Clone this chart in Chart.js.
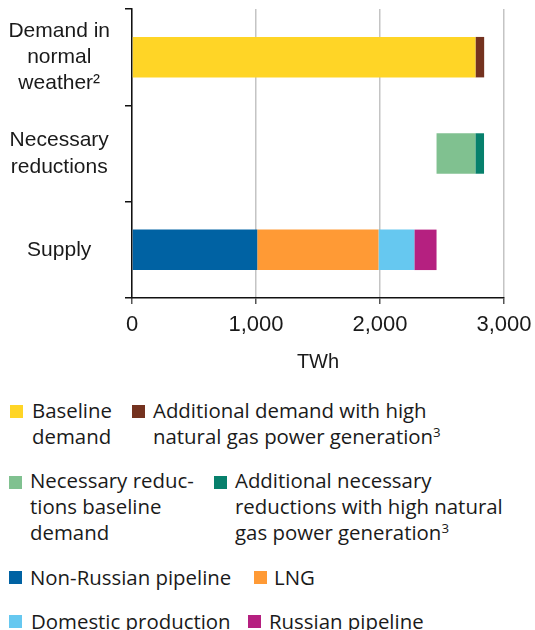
<!DOCTYPE html>
<html>
<head>
<meta charset="utf-8">
<script src="https://cdn.jsdelivr.net/npm/chart.js@4/dist/chart.umd.min.js"></script>
<style>
  body { margin: 0; background: #fff; font-family: "Open Sans", "Liberation Sans", Arial, sans-serif; color: #1a1a1a; }
  #wrap { position: relative; width: 535px; height: 630px; overflow: hidden; }
  #chart { position: absolute; left: 0; top: 0; }
  .item { position: absolute; font-size: 20.4px; line-height: 26px; white-space: nowrap; }
  .sw { position: absolute; width: 13px; height: 13px; }
  sup { font-size: 65%; line-height: 0; vertical-align: 0.55em; }
</style>
</head>
<body>
<div id="wrap">
  <canvas id="chart" width="535" height="385"></canvas>
  <div id="legend"></div>
</div>
<script>
// categories
var categories = [['Demand in', 'normal', 'weather²'], ['Necessary', 'reductions'], 'Supply'];

// series values in TWh
var baselineDemand      = [2770, null, null];
var additionalDemand    = [70, null, null];
var reductionsOffset    = [null, 2456, null];   // invisible start of the floating bar
var reductionsBaseline  = [null, 313, null];
var reductionsAdditional= [null, 70, null];
var nonRussianPipeline  = [null, null, 1010];
var lng                 = [null, null, 978];
var domesticProduction  = [null, null, 289];
var russianPipeline     = [null, null, 179];

var xTicks = [0, 1000, 2000, 3000];

var colores = {
  baseline: '#FFD526', additional: '#74321F',
  redBase: '#80C190', redAdd: '#07806C',
  nonRus: '#0062A3', lng: '#FF9A35', dom: '#66C8F0', rus: '#B52080'
};

function ds(label, data, color) {
  return { label: label, data: data, backgroundColor: color, borderWidth: 0,
           barPercentage: 0.42, categoryPercentage: 1 };
}

new Chart(document.getElementById('chart'), {
  type: 'bar',
  data: {
    labels: categories,
    datasets: [
      ds('Baseline demand', baselineDemand, colores.baseline),
      ds('Additional demand with high natural gas power generation', additionalDemand, colores.additional),
      ds('offset', reductionsOffset, 'rgba(0,0,0,0)'),
      ds('Necessary reductions baseline demand', reductionsBaseline, colores.redBase),
      ds('Additional necessary reductions with high natural gas power generation', reductionsAdditional, colores.redAdd),
      ds('Non-Russian pipeline', nonRussianPipeline, colores.nonRus),
      ds('LNG', lng, colores.lng),
      ds('Domestic production', domesticProduction, colores.dom),
      ds('Russian pipeline', russianPipeline, colores.rus)
    ]
  },
  options: {
    indexAxis: 'y',
    responsive: false,
    animation: false,
    layout: { padding: { top: 9, right: 0, left: 0, bottom: 0 } },
    plugins: { legend: { display: false }, tooltip: { enabled: false } },
    scales: {
      x: {
        stacked: true,
        min: 0, max: 3000,
        afterBuildTicks: function(scale) { scale.ticks = xTicks.map(function(v) { return { value: v }; }); },
        ticks: {
          color: '#1a1a1a', padding: 8,
          font: { family: 'Liberation Sans', size: 22 },
          callback: function(v) { return v.toLocaleString('en-US'); }
        },
        grid: { color: '#c4c4c4', lineWidth: 1.5, tickLength: 6, tickColor: '#555' },
        border: { color: '#111', width: 1.5 },
        title: { display: true, text: 'TWh', color: '#1a1a1a',
                 font: { family: 'Liberation Sans', size: 20 }, padding: { top: 4, bottom: 11 } },
        afterFit: function(scale) {
          scale.height = 87;
          scale.paddingRight = 31;
          scale.paddingLeft = 0;
        }
      },
      y: {
        stacked: true,
        ticks: {
          color: '#1a1a1a', padding: 15, crossAlign: 'center',
          font: { family: 'Liberation Sans', size: 21, lineHeight: 1.26 }
        },
        grid: { offset: true, drawOnChartArea: false, tickLength: 7, tickColor: '#111', lineWidth: 1.5 },
        border: { color: '#111', width: 1.5 },
        afterFit: function(scale) {
          scale.width = 132;
          scale.paddingTop = 0;
          scale.paddingBottom = 0;
        }
      }
    }
  }
});

// legend drawn as html so the wrapping matches the picture
var legendItems = [
  { color: colores.baseline,   sx: 10,  sy: 405, tx: 32,  ty: 397, html: 'Baseline<br>demand' },
  { color: colores.additional, sx: 132, sy: 405, tx: 153, ty: 397, html: 'Additional demand with high<br>natural gas power generation<sup>3</sup>' },
  { color: colores.redBase,    sx: 9,   sy: 476, tx: 30,  ty: 467, html: 'Necessary reduc-<br>tions baseline<br>demand' },
  { color: colores.redAdd,     sx: 214, sy: 476, tx: 235, ty: 467, html: 'Additional necessary<br>reductions with high natural<br>gas power generation<sup>3</sup>' },
  { color: colores.nonRus,     sx: 9,   sy: 571, tx: 30,  ty: 564, html: 'Non-Russian pipeline' },
  { color: colores.lng,        sx: 254, sy: 571, tx: 274, ty: 564, html: 'LNG' },
  { color: colores.dom,        sx: 9,   sy: 615, tx: 31,  ty: 608, html: 'Domestic production' },
  { color: colores.rus,        sx: 248, sy: 615, tx: 269, ty: 608, html: 'Russian pipeline' }
];
var leg = document.getElementById('legend');
legendItems.forEach(function(it) {
  var s = document.createElement('div');
  s.className = 'sw';
  s.style.left = it.sx + 'px'; s.style.top = it.sy + 'px'; s.style.background = it.color;
  leg.appendChild(s);
  var t = document.createElement('div');
  t.className = 'item';
  t.style.left = it.tx + 'px'; t.style.top = it.ty + 'px';
  t.innerHTML = it.html;
  leg.appendChild(t);
});
</script>
</body>
</html>
